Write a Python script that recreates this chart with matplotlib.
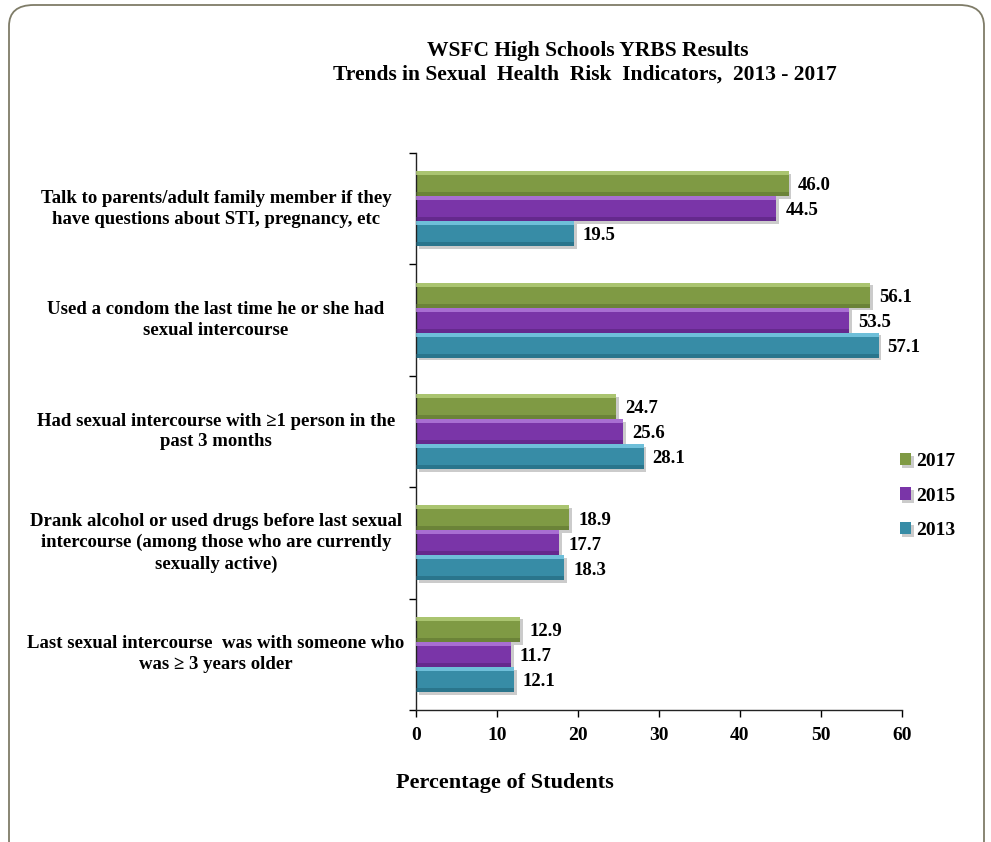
import matplotlib
matplotlib.use("Agg")
import matplotlib.pyplot as plt
import matplotlib.patheffects as pe
from matplotlib.patches import FancyBboxPatch
import numpy as np

categories = [
    "Talk to parents/adult family member if they\nhave questions about STI, pregnancy, etc",
    "Used a condom the last time he or she had\nsexual intercourse",
    "Had sexual intercourse with \u22651 person in the\npast 3 months",
    "Drank alcohol or used drugs before last sexual\nintercourse (among those who are currently\nsexually active)",
    "Last sexual intercourse  was with someone who\nwas \u2265 3 years older",
]
years = ["2017", "2015", "2013"]
v2017 = [46.0, 56.1, 24.7, 18.9, 12.9]
v2015 = [44.5, 53.5, 25.6, 17.7, 11.7]
v2013 = [19.5, 57.1, 28.1, 18.3, 12.1]
xticks = [0, 10, 20, 30, 40, 50, 60]

colors = {"2017": "#7F9A44", "2015": "#7A35A8", "2013": "#378CA6"}
light = {"2017": "#B5CF7C", "2015": "#B47DDD", "2013": "#7CCCE6"}
dark = {"2017": "#5E7530", "2015": "#57227C", "2013": "#22667C"}

plt.rcParams['font.family'] = ['Liberation Serif', 'DejaVu Serif']
plt.rcParams['font.weight'] = 'bold'

fig = plt.figure(figsize=(9.91, 8.42), dpi=100)
W, H = 991, 842

# rounded border
border = FancyBboxPatch((9 / W, -20 / H), (984 - 9) / W, (837 + 20) / H,
                        boxstyle="round,pad=0,rounding_size=0.025",
                        transform=fig.transFigure, fill=False,
                        edgecolor="#7F7C68", linewidth=1.3)
fig.patches.append(border)

ax = fig.add_axes([416 / W, (842 - 710) / H, (902 - 416) / W, (710 - 153) / H])

y = np.arange(len(categories))
h = 0.225
series = [("2017", v2017, -h), ("2015", v2015, 0.0), ("2013", v2013, h)]
shadow = [pe.SimplePatchShadow(offset=(2, -2), shadow_rgbFace="#999999", alpha=0.5), pe.Normal()]
handles = []
for name, vals, off in series:
    bars = ax.barh(y + off, vals, height=h, color=colors[name], edgecolor="none",
                   label=name, zorder=2)
    for b in bars:
        b.set_path_effects(shadow)
    handles.append(bars)
    # bevel highlight / shade strips
    ax.barh(y + off - h * 0.42, vals, height=h * 0.16, color=light[name],
            edgecolor="none", zorder=3, alpha=0.8)
    ax.barh(y + off + h * 0.42, vals, height=h * 0.16, color=dark[name],
            edgecolor="none", zorder=3, alpha=0.6)
    for yy, v in zip(y + off, vals):
        ax.text(v + 1.1, yy + 0.02, f"{v:.1f}", va="center", ha="left",
                fontsize=13.5, fontweight="bold", color="black")

ax.set_ylim(len(categories) - 0.5, -0.5)
ax.set_xlim(0, 60)
ax.set_xticks(xticks)
ax.set_xticklabels([str(t) for t in xticks], fontsize=14, fontweight="bold")
ax.set_yticks(np.arange(len(categories) + 1) - 0.5)
ax.set_yticklabels([])
ax.tick_params(axis="y", length=5, width=1, direction="out")
ax.tick_params(axis="x", length=5, width=1, direction="out", pad=7)
for s in ["top", "right"]:
    ax.spines[s].set_visible(False)
for s in ["left", "bottom"]:
    ax.spines[s].set_color("#222222")
    ax.spines[s].set_linewidth(1)
ax.set_facecolor("none")

for i, lab in enumerate(categories):
    yc = ax.transData.transform((0, i))[1]
    fig.text(216 / W, yc / H, lab, ha="center", va="center", fontsize=13.5,
             fontweight="bold", linespacing=1.3, transform=fig.transFigure)

fig.text(588 / W, 1 - 51 / H, "WSFC High Schools YRBS Results", ha="center",
         va="center", fontsize=15.5, fontweight="bold")
fig.text(585 / W, 1 - 75 / H, "Trends in Sexual  Health  Risk  Indicators,  2013 - 2017",
         ha="center", va="center", fontsize=15.5, fontweight="bold")
fig.text(505 / W, 1 - 783 / H, "Percentage of Students", ha="center", va="center",
         fontsize=16, fontweight="bold")

leg = ax.legend(handles=handles, labels=years, loc="center left",
                bbox_to_anchor=(882 / W, 1 - 496 / H), bbox_transform=fig.transFigure,
                frameon=False, handlelength=0.6, handleheight=0.6, handletextpad=0.25,
                labelspacing=0.9, prop={"weight": "bold", "size": 14})

fig.savefig("out.png", dpi=100)
